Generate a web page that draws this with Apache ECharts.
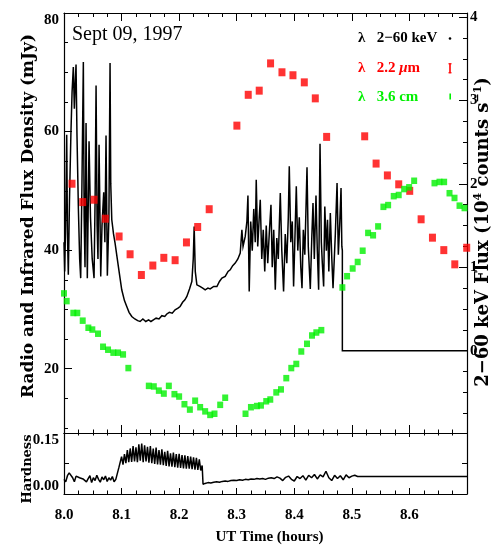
<!DOCTYPE html>
<html>
<head>
<meta charset="utf-8">
<script src="https://cdn.jsdelivr.net/npm/echarts@6/dist/echarts.min.js"></script>
<style>
  html, body { margin: 0; padding: 0; background: #fff; }
  #chart { width: 491px; height: 547px; }
</style>
</head>
<body>
<div id="chart"></div>
<script>
// 2.2 micron infrared fluxes (mJy)
const irTime = [8.0139, 8.0325, 8.0522, 8.0718, 8.0957, 8.1148, 8.1344, 8.1543, 8.1734, 8.1930, 8.2127, 8.2322, 8.2522,
  8.3003, 8.3200, 8.3391, 8.3588, 8.3786, 8.3977, 8.4174, 8.4365, 8.4562, 8.5223, 8.5421, 8.5617, 8.5814, 8.6005,
  8.6203, 8.6400, 8.6597, 8.6788, 8.6995];
const irFlux = [51.2, 48.1, 48.5, 45.3, 42.3, 39.3, 35.8, 37.4, 38.7, 38.3, 41.3, 43.9, 46.9,
  61.0, 66.2, 66.9, 71.5, 70.0, 69.5, 68.3, 65.6, 59.1, 59.2, 54.6, 52.6, 51.1, 50.0,
  45.2, 42.1, 40.0, 37.6, 40.4];

// 3.6 cm radio fluxes (mJy)
const radioTime = [8.0000, 8.0047, 8.0162, 8.0231, 8.0325, 8.0423, 8.0492, 8.0591, 8.0678, 8.0765, 8.0857, 8.0939,
  8.1026, 8.1118, 8.1473, 8.1560, 8.1647, 8.1734, 8.1821, 8.1918, 8.2000, 8.2092, 8.2186, 8.2278, 8.2365, 8.2452,
  8.2539, 8.2614, 8.2713, 8.2800, 8.3153, 8.3247, 8.3351, 8.3421, 8.3513, 8.3583, 8.3687, 8.3769, 8.3861, 8.3948,
  8.4035, 8.4122, 8.4221, 8.4308, 8.4383, 8.4470, 8.4835, 8.4917, 8.5014, 8.5101, 8.5188, 8.5282, 8.5369, 8.5456,
  8.5548, 8.5630, 8.5727, 8.5814, 8.5908, 8.5995, 8.6082, 8.6435, 8.6522, 8.6603, 8.6696, 8.6783, 8.6870, 8.6957];
const radioFlux = [32.7, 31.4, 29.4, 29.4, 28.1, 26.9, 26.6, 25.9, 23.7, 23.2, 22.7, 22.7,
  22.4, 20.1, 17.1, 17.0, 16.3, 15.8, 17.1, 15.7, 15.3, 14.0, 13.1, 14.6, 13.5, 12.8,
  12.2, 12.4, 13.9, 15.1, 12.4, 13.5, 13.7, 13.8, 14.5, 14.8, 16.0, 16.5, 18.4, 20.1,
  20.8, 22.9, 24.2, 25.6, 26.1, 26.5, 33.7, 35.6, 36.9, 38.0, 39.9, 42.9, 42.5, 44.0,
  47.3, 47.6, 49.1, 49.3, 50.3, 50.6, 51.7, 51.3, 51.5, 51.5, 49.6, 48.8, 47.5, 47.1];

// 2-60 keV X-ray count rate (10^4 counts/s)
const xrayTime = [8.0000, 8.0012, 8.0030, 8.0047, 8.0060, 8.0075, 8.0095, 8.0120, 8.0140, 8.0162, 8.0180, 8.0195,
  8.0209, 8.0225, 8.0250, 8.0272, 8.0290, 8.0310, 8.0336, 8.0350, 8.0365, 8.0383, 8.0405, 8.0435, 8.0460, 8.0490,
  8.0522, 8.0540, 8.0557, 8.0575, 8.0590, 8.0609, 8.0638, 8.0660, 8.0690, 8.0710, 8.0730, 8.0753, 8.0780, 8.0800,
  8.0812, 8.0830, 8.0860, 8.0887, 8.0944, 8.1003, 8.1050, 8.1090, 8.1130, 8.1177, 8.1230, 8.1280, 8.1322, 8.1370,
  8.1420, 8.1470, 8.1510, 8.1553, 8.1600, 8.1650, 8.1700, 8.1750, 8.1786, 8.1830, 8.1880, 8.1930, 8.1980, 8.2017,
  8.2060, 8.2100, 8.2134, 8.2180, 8.2221, 8.2245, 8.2261, 8.2280, 8.2308, 8.2360, 8.2410, 8.2452, 8.2500, 8.2539,
  8.2600, 8.2656, 8.2700, 8.2743, 8.2800, 8.2850, 8.2887, 8.2930, 8.2974, 8.3020, 8.3061, 8.3090, 8.3110, 8.3148,
  8.3177, 8.3195, 8.3217, 8.3243, 8.3270, 8.3296, 8.3322, 8.3339, 8.3365, 8.3391, 8.3409, 8.3435, 8.3461, 8.3487,
  8.3513, 8.3539, 8.3565, 8.3595, 8.3617, 8.3643, 8.3670, 8.3696, 8.3722, 8.3757, 8.3783, 8.3814, 8.3843, 8.3870,
  8.3896, 8.3913, 8.3939, 8.3965, 8.3988, 8.4017, 8.4035, 8.4061, 8.4087, 8.4113, 8.4134, 8.4157, 8.4183, 8.4221,
  8.4243, 8.4278, 8.4304, 8.4325, 8.4348, 8.4377, 8.4400, 8.4423, 8.4447, 8.4470, 8.4487, 8.4510, 8.4530, 8.4557,
  8.4577, 8.4600, 8.4626, 8.4652, 8.4673, 8.4713, 8.4743, 8.4765, 8.4791, 8.4812, 8.4826, 8.4835, 8.4835, 8.7000];
const xrayRate = [1.30, 0.95, 1.60, 2.59, 1.40, 0.91, 1.80, 2.60, 3.10, 3.40, 2.90, 3.20,
  3.43, 2.60, 1.70, 1.10, 0.87, 1.90, 3.46, 1.60, 1.00, 2.73, 0.87, 2.51, 1.60, 1.10,
  0.87, 1.80, 3.18, 1.50, 1.10, 2.47, 0.89, 1.50, 1.90, 1.30, 2.58, 0.90, 1.60, 3.45,
  2.00, 1.57, 1.40, 1.29, 1.01, 0.73, 0.60, 0.53, 0.46, 0.41, 0.38, 0.36, 0.35, 0.38,
  0.35, 0.37, 0.35, 0.37, 0.39, 0.38, 0.42, 0.41, 0.44, 0.46, 0.45, 0.49, 0.51, 0.53,
  0.58, 0.61, 0.65, 0.74, 0.83, 1.10, 1.49, 0.95, 0.79, 0.77, 0.75, 0.73, 0.75, 0.74,
  0.77, 0.77, 0.83, 0.87, 0.89, 0.95, 0.97, 1.02, 1.05, 1.10, 1.17, 1.45, 1.25, 1.37,
  1.55, 1.86, 0.71, 1.55, 1.20, 1.70, 1.30, 2.05, 1.25, 1.60, 1.81, 1.10, 1.45, 0.95,
  1.50, 1.05, 1.40, 1.75, 1.00, 1.45, 0.73, 1.35, 1.10, 1.89, 1.20, 0.71, 1.40, 1.05,
  1.60, 2.21, 1.30, 1.55, 0.77, 1.50, 1.97, 1.20, 1.60, 1.00, 0.75, 1.45, 1.15, 2.20,
  1.25, 0.74, 1.35, 1.77, 1.10, 1.86, 1.20, 0.73, 2.48, 1.30, 1.05, 0.77, 1.73, 1.20,
  1.57, 0.95, 1.65, 1.10, 0.75, 1.40, 2.01, 1.15, 1.55, 1.95, 1.25, 1.20, 0.00, 0.00];

// X-ray hardness ratio
const hardTime = [8.000, 8.003, 8.006, 8.009, 8.012, 8.015, 8.018, 8.021, 8.024, 8.027, 8.030, 8.033, 8.036,
  8.039, 8.042, 8.045, 8.048, 8.051, 8.054, 8.057, 8.060, 8.063, 8.066, 8.069, 8.072, 8.075, 8.078, 8.081,
  8.084, 8.087, 8.090, 8.093, 8.0955, 8.098,
  8.1000, 8.1025, 8.1050, 8.1075, 8.1100, 8.1125, 8.1150, 8.1175, 8.1200, 8.1225, 8.1250, 8.1275, 8.1300,
  8.1325, 8.1350, 8.1375, 8.1400, 8.1425, 8.1450, 8.1475, 8.1500, 8.1525, 8.1550, 8.1575, 8.1600, 8.1625,
  8.1650, 8.1675, 8.1700, 8.1725, 8.1750, 8.1775, 8.1800, 8.1825, 8.1850, 8.1875, 8.1900, 8.1925, 8.1950,
  8.1975, 8.2000, 8.2025, 8.2050, 8.2075, 8.2100, 8.2125, 8.2150, 8.2175, 8.2200, 8.2225, 8.2250, 8.2275,
  8.2300, 8.2325, 8.2350, 8.2375, 8.2400, 8.2415,
  8.245, 8.250, 8.255, 8.260, 8.265, 8.270, 8.275, 8.280, 8.285, 8.290, 8.295, 8.300, 8.305, 8.310, 8.315,
  8.320, 8.325, 8.330, 8.335, 8.340, 8.345, 8.350, 8.355, 8.360, 8.365, 8.370, 8.375, 8.380, 8.385, 8.390,
  8.395, 8.400, 8.405, 8.410, 8.415, 8.420, 8.425, 8.430, 8.435, 8.440, 8.445, 8.450, 8.455, 8.460, 8.465,
  8.470, 8.475, 8.480, 8.485, 8.490, 8.495, 8.500, 8.505, 8.510, 8.700];
const hardRatio = [0.036, 0.030, 0.045, 0.052, 0.056, 0.040, 0.030, 0.044, 0.047, 0.040, 0.043, 0.037, 0.041,
  0.030, 0.038, 0.045, 0.028, 0.040, 0.033, 0.046, 0.036, 0.029, 0.042, 0.035, 0.044, 0.031, 0.040, 0.034,
  0.043, 0.030, 0.036, 0.040, 0.066, 0.070,
  0.092, 0.072, 0.098, 0.076, 0.108, 0.078, 0.112, 0.079, 0.118, 0.080, 0.115, 0.078, 0.122,
  0.082, 0.124, 0.078, 0.120, 0.080, 0.116, 0.077, 0.118, 0.076, 0.112, 0.074, 0.114, 0.073,
  0.108, 0.072, 0.110, 0.071, 0.104, 0.069, 0.106, 0.068, 0.100, 0.067, 0.102, 0.066, 0.098,
  0.065, 0.099, 0.064, 0.096, 0.063, 0.095, 0.062, 0.093, 0.062, 0.092, 0.061, 0.090, 0.060,
  0.089, 0.059, 0.085, 0.058, 0.070, 0.024,
  0.026, 0.028, 0.027, 0.029, 0.030, 0.029, 0.031, 0.032, 0.031, 0.033, 0.034, 0.033, 0.035, 0.034, 0.036,
  0.035, 0.037, 0.036, 0.038, 0.037, 0.038, 0.036, 0.039, 0.040, 0.038, 0.042, 0.039, 0.033, 0.041, 0.044,
  0.036, 0.032, 0.043, 0.038, 0.045, 0.034, 0.046, 0.040, 0.048, 0.037, 0.047, 0.042, 0.056, 0.040, 0.033,
  0.046, 0.038, 0.045, 0.035, 0.047, 0.040, 0.044, 0.046, 0.043, 0.043];

// Tick positions
const fluxMajor = [20, 40, 60];
const fluxTop = [80];
const fluxMinor = [10, 15, 25, 30, 35, 45, 50, 55, 65, 70, 75];
const rateMajor = [0, 1, 2, 3, 4];
const rateMinor = [-0.75, -0.5, -0.25, 0.25, 0.5, 0.75, 1.25, 1.5, 1.75, 2.25, 2.5, 2.75, 3.25, 3.5, 3.75];

const zip = (a, b) => a.map((v, i) => [v, b[i]]);

const SERIF = '"Liberation Serif", "Times New Roman", serif';
const WIDE = '"DejaVu Serif", serif';
const INK = '#000';
const RED = '#ff0000';
const GREEN = '#00f000';

function timeAxis(grid, pos, tickLen, minorLen, label) {
  return {
    type: 'value', gridIndex: grid, position: pos, min: 8, max: 8.7, interval: 0.1,
    axisLine: { show: true, onZero: false, lineStyle: { color: INK, width: 1.2 } },
    axisTick: { show: true, inside: true, length: tickLen, lineStyle: { color: INK, width: 1 } },
    minorTick: { show: true, splitNumber: 4, length: minorLen, lineStyle: { color: INK, width: 1 } },
    splitLine: { show: false }, minorSplitLine: { show: false },
    axisLabel: label ? Object.assign({ show: true, color: INK, fontFamily: SERIF, fontWeight: 'bold', fontSize: 15,
      formatter: v => v.toFixed(1), showMaxLabel: false }, label) : { show: false }
  };
}

function valueAxis(grid, pos, min, max, o) {
  return {
    type: 'value', gridIndex: grid, position: pos, min: min, max: max,
    axisLine: { show: o.line, onZero: false, lineStyle: { color: INK, width: 1.2 } },
    axisTick: o.ticks ? { show: true, inside: true, length: o.tickLen, customValues: o.ticks,
      lineStyle: { color: INK, width: 1 } } : { show: false },
    axisLabel: o.labels ? { show: true, customValues: o.labels, margin: o.margin, color: INK,
      fontFamily: SERIF, fontWeight: 'bold', fontSize: 15, verticalAlign: o.vAlign || 'middle',
      formatter: o.fmt || (v => String(v)) } : { show: false },
    splitLine: { show: false }
  };
}

const chart = echarts.init(document.getElementById('chart'), null, { renderer: 'canvas' });

chart.setOption({
  animation: false,
  backgroundColor: '#fff',
  grid: [
    { left: 64, top: 13, width: 403, height: 420 },
    { left: 64, top: 433, width: 403, height: 61 }
  ],
  xAxis: [
    timeAxis(0, 'bottom', 8, 3.5, null),
    timeAxis(0, 'top', 8, 4, null),
    timeAxis(1, 'bottom', 6, 3.5, { margin: 14 }),
    timeAxis(1, 'top', 4, 2.5, null)
  ],
  yAxis: [
    valueAxis(0, 'left', 9.15, 80, { line: true, ticks: fluxMajor.concat(fluxTop), tickLen: 8, labels: fluxMajor, margin: 5 }),
    valueAxis(0, 'left', 9.15, 80, { line: false, ticks: fluxMinor, tickLen: 4 }),
    valueAxis(0, 'left', 9.15, 80, { line: false, labels: fluxTop, margin: 5, vAlign: 'top' }),
    valueAxis(0, 'right', -0.987, 4.049, { line: true, ticks: rateMajor, tickLen: 8, labels: rateMajor, margin: 3 }),
    valueAxis(0, 'right', -0.987, 4.049, { line: false, ticks: rateMinor, tickLen: 4 }),
    valueAxis(1, 'left', 0, 0.15, { line: true, ticks: [0.075], tickLen: 5, labels: [0.15], margin: 5, vAlign: 'top',
      fmt: v => v.toFixed(2) }),
    valueAxis(1, 'left', 0, 0.15, { line: false, labels: [0], margin: 5, vAlign: 'bottom', fmt: v => v.toFixed(2) }),
    valueAxis(1, 'right', 0, 0.15, { line: true, ticks: [0.075], tickLen: 5 })
  ],
  series: [
    {
      name: '2-60 keV', type: 'line', xAxisIndex: 0, yAxisIndex: 3, z: 2,
      data: zip(xrayTime, xrayRate), showSymbol: false, symbol: 'none',
      lineStyle: { color: INK, width: 1.5, join: 'miter' }
    },
    {
      name: '2.2 um', type: 'scatter', xAxisIndex: 0, yAxisIndex: 0, z: 3,
      data: zip(irTime, irFlux), symbol: 'rect', symbolSize: [7, 8],
      itemStyle: { color: RED }
    },
    {
      name: '3.6 cm', type: 'scatter', xAxisIndex: 0, yAxisIndex: 0, z: 3,
      data: zip(radioTime, radioFlux), symbol: 'rect', symbolSize: [6, 6.5],
      itemStyle: { color: GREEN }
    },
    {
      name: 'Hardness', type: 'line', xAxisIndex: 2, yAxisIndex: 5, z: 2,
      data: zip(hardTime, hardRatio), showSymbol: false, symbol: 'none',
      lineStyle: { color: INK, width: 1.5 }
    }
  ],
  graphic: [
    { type: 'text', x: 72, y: 35, style: { text: 'Sept 09, 1997', font: '20px ' + SERIF, fill: INK,
      align: 'left', verticalAlign: 'middle' } },
    // key
    { type: 'text', x: 361.7, y: 38, style: { text: 'λ', font: 'bold 15px ' + SERIF, fill: INK, align: 'center', verticalAlign: 'middle' } },
    { type: 'text', x: 376.7, y: 38, style: { text: '2−60 keV', font: 'bold 15px ' + SERIF, fill: INK, align: 'left', verticalAlign: 'middle' } },
    { type: 'circle', shape: { cx: 450, cy: 38.5, r: 1.3 }, style: { fill: INK } },
    { type: 'text', x: 361.7, y: 68, style: { text: 'λ', font: 'bold 15px ' + SERIF, fill: RED, align: 'center', verticalAlign: 'middle' } },
    { type: 'text', x: 376.7, y: 68, style: {
      text: '2.2 {mu|μ}m', font: 'bold 15px ' + SERIF, fill: RED, align: 'left', verticalAlign: 'middle',
      rich: { mu: { font: 'italic bold 15px ' + SERIF, fill: RED } } } },
    { type: 'rect', shape: { x: 449.2, y: 63.3, width: 1.6, height: 10 }, style: { fill: RED } },
    { type: 'rect', shape: { x: 448.4, y: 63.3, width: 3.2, height: 1 }, style: { fill: RED } },
    { type: 'rect', shape: { x: 448.4, y: 72.3, width: 3.2, height: 1 }, style: { fill: RED } },
    { type: 'text', x: 361.7, y: 97, style: { text: 'λ', font: 'bold 15px ' + SERIF, fill: GREEN, align: 'center', verticalAlign: 'middle' } },
    { type: 'text', x: 376.7, y: 97, style: { text: '3.6 cm', font: 'bold 15px ' + SERIF, fill: GREEN, align: 'left', verticalAlign: 'middle' } },
    { type: 'rect', shape: { x: 449.4, y: 93.5, width: 1.6, height: 6 }, style: { fill: GREEN } },
    // axis titles
    { type: 'text', x: 29, y: 216, rotation: Math.PI / 2, style: {
      text: 'Radio and Infrared Flux Density (mJy)', font: 'bold 17px ' + WIDE, fill: INK,
      align: 'center', verticalAlign: 'middle' } },
    { type: 'text', x: 483, y: 232, rotation: Math.PI / 2, style: {
      text: '2−60 keV Flux (10{sup|4} counts s{sup|−1})', font: 'bold 18px ' + WIDE, fill: INK,
      align: 'center', verticalAlign: 'middle', lineHeight: 20,
      rich: { sup: { font: 'bold 11px ' + WIDE, fill: INK, lineHeight: 11, verticalAlign: 'top' } } } },
    { type: 'text', x: 28, y: 469, rotation: Math.PI / 2, style: {
      text: 'Hardness', font: 'bold 13px ' + WIDE, fill: INK, align: 'center', verticalAlign: 'middle' } },
    { type: 'text', x: 269.5, y: 537, style: {
      text: 'UT Time (hours)', font: 'bold 15px ' + SERIF, fill: INK, align: 'center', verticalAlign: 'middle' } }
  ]
});
</script>
</body>
</html>
